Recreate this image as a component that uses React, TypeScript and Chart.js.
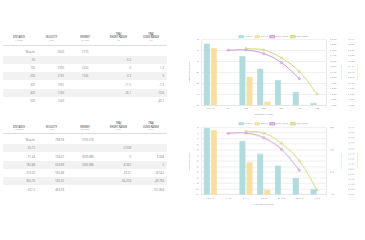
import React, { useEffect, useRef } from "react";
import { Chart, registerables } from "chart.js";

Chart.register(...registerables);

const FONT = "'Open Sans', 'DejaVu Sans', sans-serif";

// ---------- data (imperial) ----------
const labelsYards = ["Muzzle", "50", "100", "200", "300", "400", "500"];
const velocityFps = [2620, null, 2390, 2165, 1955, 1740, 1540];
const energyFtLbs = [2770, null, 2220, 1745, null, null, null];
const shortTrajIn = [null, -0.2, 0, -3.3, -11.5, -26.1, null];
const longTrajIn = [null, null, 1.2, 0, -7.3, -19.6, -40.1];

// ---------- data (metric) ----------
const labelsMeters = ["Muzzle", "45.72", "91.44", "182.88", "274.32", "365.76", "457.2"];
const velocityMs = [798.58, null, 728.47, 659.89, 595.88, 530.35, 469.39];
const energyJ = [3755.576, null, 3009.885, 2365.886, null, null, null];
const shortTrajCm = [null, -0.508, 0, -8.382, -29.21, -66.294, null];
const longTrajCm = [null, null, 3.048, 0, -18.542, -49.784, -101.854];

// ---------- text ----------
const headersImperial = [["DISTANCE", "(YARDS)"], ["VELOCITY", "(FPS)"], ["ENERGY", "(FT-LBS)"], ["TRAJ", "SHORT RANGE", "(IN)"], ["TRAJ", "LONG RANGE", "(IN)"]];
const headersMetric = [["DISTANCE", "(METERS)"], ["VELOCITY", "(M/S)"], ["ENERGY", "(JOULES)"], ["TRAJ", "SHORT RANGE", "(CM)"], ["TRAJ", "LONG RANGE", "(CM)"]];
const legendLabels = ["Velocity", "Energy", "Short Range", "Long Range"];
const axisTitlesImperial = ["Distance (yards)", "Trajectory (inches)", "Velocity (fps)", "Energy (ft-lbs)"];
const axisTitlesMetric = ["Distance (meters)", "Trajectory (cm)", "Velocity (m/s)", "Energy (joules)"];

// axis ranges [min, max, step]
const trajAxisImperial = [-50, 10, 10];
const velAxisImperial = [1500, 2700, 100];
const enAxisImperial = [1680, 2940, 105];
const trajAxisMetric = [-110, 10, 10];
const velAxisMetric = [440, 800, 120];
const enAxisMetric = [2250, 3810, 120];

const TEAL = "#b2dbdd";
const TEAL_B = "#9fcfd3";
const YELLOW = "#f7dfa0";
const YELLOW_B = "#f0d48a";
const PURPLE = "#c482cc";
const GREEN = "#c6cf66";

const fmt = (v: number | null) => (v == null ? "" : String(v));

const COLS = [3, 35, 68, 102, 135, 167];
const VALUE_X = [35, 64, 82, 131, 164];
const VALUE_ALIGN = ["right", "right", "left", "right", "right"];

function Txt(props: { x: number; y: number; w?: number; align?: string; size: number; color: string; weight?: number; children: any }) {
  const { x, y, align = "center", size, color, weight = 400 } = props;
  const w = props.w ?? 40;
  let left = x - w / 2;
  if (align === "right") left = x - w;
  if (align === "left") left = x;
  return (
    <div
      style={{
        position: "absolute",
        left,
        top: y - 3,
        width: w,
        height: 6,
        lineHeight: "6px",
        fontSize: size,
        color,
        fontWeight: weight,
        textAlign: align as any,
        whiteSpace: "nowrap",
        fontFamily: FONT,
      }}
    >
      {props.children}
    </div>
  );
}

function DataTable(props: { headers: string[][]; rows: string[][]; subY: number; gap: number; lineY: number; rowTop: number; rowH: number }) {
  const { headers, rows, subY, gap, lineY, rowTop, rowH } = props;
  const items: any[] = [];
  headers.forEach((h, c) => {
    const cx = (COLS[c] + COLS[c + 1]) / 2;
    const n = h.length;
    h.forEach((line, k) => {
      const y = subY - (n - 1 - k) * gap;
      const isSub = k === n - 1;
      items.push(
        <Txt key={`h${c}-${k}`} x={cx} y={y} size={isSub ? 2.2 : 2.5} color={isSub ? "#a0a0a0" : "#5a5a5a"} weight={isSub ? 400 : 600}>
          {line}
        </Txt>
      );
    });
  });
  items.push(<div key="line" style={{ position: "absolute", left: COLS[0], top: lineY, width: COLS[5] - COLS[0], height: 0.6, background: "#dcdcdc" }} />);
  rows.forEach((r, i) => {
    const top = rowTop + i * rowH;
    if (i % 2 === 1) {
      for (let c = 0; c < 5; c++) {
        items.push(
          <div
            key={`bg${i}-${c}`}
            style={{ position: "absolute", left: COLS[c] + (c === 0 ? 0 : 0.4), top, width: COLS[c + 1] - COLS[c] - (c === 0 ? 0.4 : 0.8), height: rowH, background: "#f2f2f2" }}
          />
        );
      }
    }
    r.forEach((v, c) => {
      items.push(
        <Txt key={`v${i}-${c}`} x={VALUE_X[c]} y={top + rowH / 2} align={VALUE_ALIGN[c]} size={2.8} color="#808080">
          {v}
        </Txt>
      );
    });
  });
  return <>{items}</>;
}

function ComboChart(props: {
  left: number; top: number; width: number; height: number; legendH: number; padTop: number;
  labels: string[]; vel: (number | null)[]; en: (number | null)[]; sh: (number | null)[]; lg: (number | null)[];
  titles: string[]; trajAxis: number[]; velAxis: number[]; enAxis: number[];
}) {
  const ref = useRef<HTMLCanvasElement>(null);
  useEffect(() => {
    const p = props;
    const tf = { family: FONT, size: 2.5 };
    const chart = new Chart(ref.current as HTMLCanvasElement, {
      type: "bar",
      data: {
        labels: p.labels,
        datasets: [
          { type: "bar", label: legendLabels[0], data: p.vel, yAxisID: "y1", backgroundColor: TEAL, borderColor: TEAL_B, borderWidth: 0.4, order: 2 },
          { type: "bar", label: legendLabels[1], data: p.en, yAxisID: "y2", backgroundColor: YELLOW, borderColor: YELLOW_B, borderWidth: 0.4, order: 3 },
          {
            type: "line", label: legendLabels[2], data: p.sh, yAxisID: "y", borderColor: PURPLE, backgroundColor: "#e6c8ea",
            borderWidth: 0.8, pointRadius: 1.1, pointBorderWidth: 0.5, pointBackgroundColor: "#e6c8ea", pointBorderColor: PURPLE, tension: 0.4, order: 0,
          },
          {
            type: "line", label: legendLabels[3], data: p.lg, yAxisID: "y", borderColor: GREEN, backgroundColor: "#e6eab8",
            borderWidth: 0.8, pointRadius: 1.1, pointBorderWidth: 0.5, pointBackgroundColor: "#e6eab8", pointBorderColor: GREEN, tension: 0.4, order: 1,
          },
        ] as any,
      },
      options: {
        responsive: true,
        maintainAspectRatio: false,
        animation: false,
        layout: { padding: { top: p.padTop, right: 3, left: 0, bottom: 0 } },
        plugins: {
          tooltip: { enabled: false },
          legend: {
            position: "top",
            maxHeight: p.legendH,
            labels: {
              font: { family: FONT, size: 2.2 },
              color: "#9a9a9a",
              boxWidth: 5,
              boxHeight: 2.2,
              padding: 2,
              sort: (a: any, b: any) => a.datasetIndex - b.datasetIndex,
            },
          } as any,
        },
        scales: {
          x: {
            grid: { display: false, drawTicks: false },
            border: { color: "#dddddd", width: 0.6 },
            ticks: { font: tf, color: "#9a9a9a", padding: 2, maxRotation: 0, autoSkip: false },
            title: { display: true, text: p.titles[0], font: tf, color: "#9a9a9a", padding: { top: 1, bottom: 1.2 } },
            afterFit: (s: any) => { s.height = 12; },
          },
          y: {
            position: "left",
            min: p.trajAxis[0], max: p.trajAxis[1],
            ticks: { stepSize: p.trajAxis[2], font: tf, color: "#9a9a9a", padding: 2.5, autoSkip: false },
            grid: { color: "#e6e6e6", lineWidth: 0.6, drawTicks: false },
            border: { color: "#dddddd", width: 0.6 },
            title: { display: true, text: p.titles[1], font: tf, color: "#9a9a9a", padding: { top: 2.5, bottom: 0 } },
            afterFit: (s: any) => { s.width = 16.5; },
          },
          y1: {
            position: "right",
            min: p.velAxis[0], max: p.velAxis[1],
            ticks: { stepSize: p.velAxis[2], font: tf, color: "#9a9a9a", padding: 4, autoSkip: false },
            grid: { drawOnChartArea: false, drawTicks: false },
            border: { color: "#dddddd", width: 0.6 },
            title: { display: true, text: p.titles[2], font: tf, color: TEAL_B, padding: { top: 0.5, bottom: 0 } },
            afterFit: (s: any) => { s.width = 18; },
          },
          y2: {
            position: "right",
            min: p.enAxis[0], max: p.enAxis[1],
            ticks: { stepSize: p.enAxis[2], font: tf, color: "#9a9a9a", padding: 4, autoSkip: false },
            grid: { drawOnChartArea: false, drawTicks: false },
            border: { display: false },
            title: { display: true, text: p.titles[3], font: tf, color: YELLOW_B, padding: { top: 2.5, bottom: 0 } },
            afterFit: (s: any) => { s.width = 18; },
          },
        } as any,
      },
    } as any);
    return () => chart.destroy();
  }, []);
  return (
    <div style={{ position: "absolute", left: props.left, top: props.top, width: props.width, height: props.height }}>
      <canvas ref={ref} />
    </div>
  );
}

const rowsImperial = labelsYards.map((d, i) => [d, fmt(velocityFps[i]), fmt(energyFtLbs[i]), fmt(shortTrajIn[i]), fmt(longTrajIn[i])]);
const rowsMetric = labelsMeters.map((d, i) => [d, fmt(velocityMs[i]), fmt(energyJ[i]), fmt(shortTrajCm[i]), fmt(longTrajCm[i])]);

export default function App() {
  return (
    <div style={{ position: "absolute", left: 0, top: 0, width: 365, height: 240, background: "#ffffff", overflow: "hidden", fontFamily: FONT }}>
      <DataTable headers={headersImperial} rows={rowsImperial} subY={41} gap={3.6} lineY={45} rowTop={47.6} rowH={8.2} />
      <DataTable headers={headersMetric} rows={rowsMetric} subY={129.7} gap={3.2} lineY={133} rowTop={135.9} rowH={8.25} />
      <ComboChart
        left={185} top={31} width={180} height={86} legendH={5.4} padTop={2.6}
        labels={labelsYards} vel={velocityFps} en={energyFtLbs} sh={shortTrajIn} lg={longTrajIn}
        titles={axisTitlesImperial} trajAxis={trajAxisImperial} velAxis={velAxisImperial} enAxis={enAxisImperial}
      />
      <ComboChart
        left={185} top={118.3} width={180} height={87.7} legendH={6.8} padTop={2.6}
        labels={labelsMeters} vel={velocityMs} en={energyJ} sh={shortTrajCm} lg={longTrajCm}
        titles={axisTitlesMetric} trajAxis={trajAxisMetric} velAxis={velAxisMetric} enAxis={enAxisMetric}
      />
    </div>
  );
}
